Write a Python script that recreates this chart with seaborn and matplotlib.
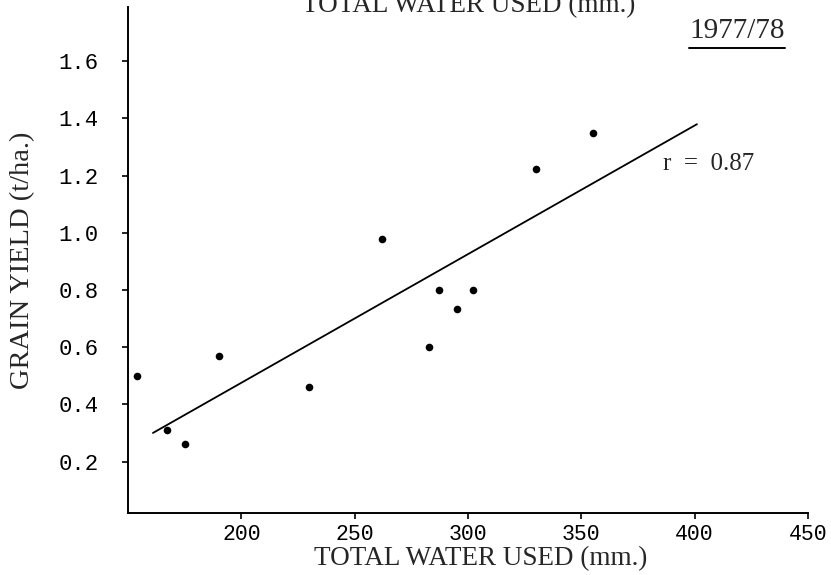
import matplotlib
matplotlib.use("Agg")
import matplotlib.pyplot as plt
import seaborn as sns
from matplotlib.lines import Line2D

# Data
water_used = [154, 167, 175, 190, 230, 262, 283, 287, 295, 302, 330, 355]
grain_yield = [0.50, 0.31, 0.26, 0.57, 0.46, 0.98, 0.60, 0.80, 0.735, 0.80, 1.225, 1.35]

# regression line as printed (its two ends)
fit_x = [161, 401]
fit_y = [0.30, 1.38]

x_ticks = [200, 250, 300, 350, 400, 450]
y_ticks = [0.2, 0.4, 0.6, 0.8, 1.0, 1.2, 1.4, 1.6]
season = "1977/78"
r_value = 0.87

sns.set_style("ticks")
plt.rcParams['font.family'] = ['Liberation Serif', 'DejaVu Serif']

fig = plt.figure(figsize=(8.31, 5.75), dpi=100)
ax = fig.add_axes([128 / 831, 1 - 513 / 575, 680 / 831, 506 / 575])

sns.scatterplot(x=water_used, y=grain_yield, color='black', s=30,
                linewidth=0, ax=ax)
sns.lineplot(x=fit_x, y=fit_y, color='black', linewidth=1.3, ax=ax)

ax.set_xlim(150, 450)
ax.set_ylim(0.02, 1.79)
sns.despine(ax=ax)
for side in ['left', 'bottom']:
    ax.spines[side].set_linewidth(1.4)
    ax.spines[side].set_color('black')

ax.set_xticks(x_ticks)
ax.set_xticklabels([str(v) for v in x_ticks], family='Liberation Mono', fontsize=15.5)
ax.set_yticks(y_ticks)
ax.set_yticklabels([f"{v:.1f}" for v in y_ticks], family='Liberation Mono', fontsize=16)
ax.tick_params(axis='x', length=4, width=1.2, pad=4, colors='black')
ax.tick_params(axis='y', length=4, width=1.2, pad=17, colors='black')

ax.set_xlabel("TOTAL WATER USED (mm.)", fontsize=19.5)
ax.set_ylabel("GRAIN YIELD (t/ha.)", fontsize=20.5)
ax.xaxis.set_label_coords(0.519, -0.066)
ax.yaxis.set_label_coords(-0.137, 0.5)

ax.text(386, 1.242, f"r  =  {r_value:.2f}", ha='left', va='center', fontsize=18)

# cut-off label of the panel above
fig.text(469 / 831, 1 - 12 / 575, "TOTAL WATER USED (mm.)", ha='center',
         va='baseline', fontsize=19.5)

title = fig.text(737 / 831, 1 - 38 / 575, season, ha='center', va='baseline',
                 fontsize=21)
fig.canvas.draw()
bb = title.get_window_extent().transformed(fig.transFigure.inverted())
fig.add_artist(Line2D([bb.x0, bb.x1], [1 - 48 / 575] * 2, color='black',
                      linewidth=1.4, transform=fig.transFigure))

fig.savefig('out.png', dpi=100)
